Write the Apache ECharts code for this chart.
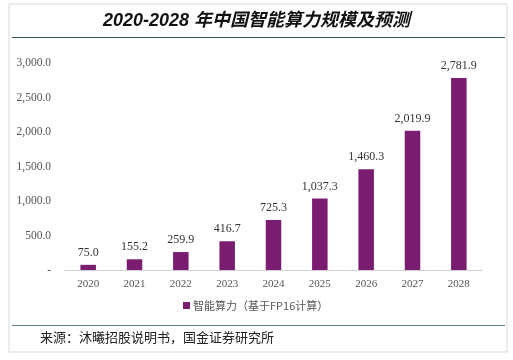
<!DOCTYPE html>
<html><head><meta charset="utf-8">
<script src="https://cdn.jsdelivr.net/npm/echarts@6/dist/echarts.min.js"></script>
<style>html,body{margin:0;padding:0;background:#fff}#c{width:513px;height:360px}</style>
</head><body><div id="c"></div>
<script>
const categories = ['2020','2021','2022','2023','2024','2025','2026','2027','2028'];
const values = [75.0, 155.2, 259.9, 416.7, 725.3, 1037.3, 1460.3, 2019.9, 2781.9];
const seriesName = '智能算力（基于FP16计算）';
const titleText = '2020-2028 年中国智能算力规模及预测';
const sourceText = '来源：沐曦招股说明书，国金证券研究所';

function fmt(v){
  if (v === 0) return '-';
  return v.toLocaleString('en-US',{minimumFractionDigits:1,maximumFractionDigits:1});
}
const chart = echarts.init(document.getElementById('c'));
chart.setOption({
  backgroundColor:'#fff',
  animation:false,
  title:{text:titleText,left:'center',top:7,textStyle:{fontFamily:'Liberation Sans, Noto Sans CJK SC',fontSize:18,fontWeight:'bold',fontStyle:'italic',color:'#111'}},
  graphic:[
    {type:'rect',shape:{x:9,y:4,width:498,height:348},style:{fill:'none',stroke:'#d9d9d9',lineWidth:1}},
    {type:'line',shape:{x1:12,y1:37.5,x2:505,y2:37.5},style:{stroke:'#2f5564',lineWidth:1.2}},
    {type:'line',shape:{x1:12,y1:325.5,x2:505,y2:325.5},style:{stroke:'#5e7f8c',lineWidth:1.2}},
    {type:'text',left:40,top:331,style:{text:sourceText,font:'13px "Noto Sans CJK SC"',fill:'#222'}}
  ],
  legend:{show:true,left:178,top:295,itemWidth:7,itemHeight:7,icon:'rect',itemGap:4,
    textStyle:{fontFamily:'Noto Sans CJK SC',fontSize:11,color:'#555',padding:[0,0,0,-2]},data:[seriesName]},
  grid:{left:65,right:31,top:63,bottom:90,containLabel:false},
  xAxis:{type:'category',data:categories,
    axisLine:{lineStyle:{color:'#d0d0d0',width:1}},axisTick:{show:false},
    axisLabel:{fontFamily:'Liberation Serif',fontSize:11,color:'#555',margin:9}},
  yAxis:{type:'value',min:0,max:3000,interval:500,
    axisLine:{show:false},axisTick:{show:false},splitLine:{show:false},
    axisLabel:{fontFamily:'Liberation Serif',fontSize:11.5,color:'#555',margin:14,formatter:fmt}},
  series:[{name:seriesName,type:'bar',data:values,barWidth:15.5,
    itemStyle:{color:'#7a1c6f'},
    label:{show:true,position:'top',distance:6,fontFamily:'Liberation Serif',fontSize:12,color:'#333',formatter:p=>fmt(p.value)}}]
});
</script></body></html>
